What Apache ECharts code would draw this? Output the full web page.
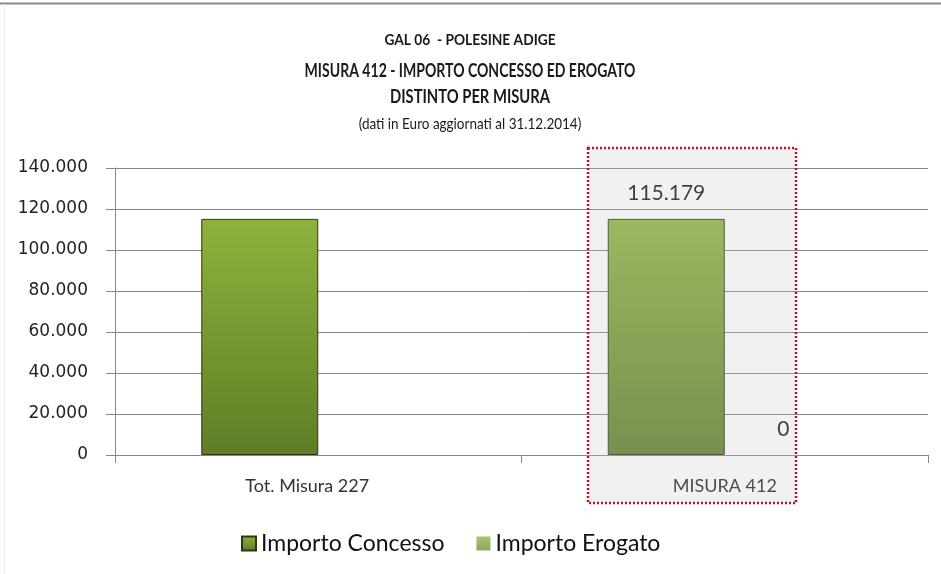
<!DOCTYPE html>
<html>
<head>
<meta charset="utf-8">
<script src="https://cdn.jsdelivr.net/npm/echarts@6/dist/echarts.min.js"></script>
<style>
  html, body { margin: 0; padding: 0; background: #fff; }
  #chart { width: 941px; height: 574px; }
</style>
</head>
<body>
<div id="chart"></div>
<script>
// dati del grafico
var categories = ['Tot. Misura 227', 'MISURA 412'];
var concesso = [115179, 115179];
var erogato = [null, 0];
var seriesNames = ['Importo Concesso', 'Importo Erogato'];
var yMin = 0, yMax = 140000, yStep = 20000;
var titleLines = [
    'GAL 06  - POLESINE ADIGE',
    'MISURA 412 - IMPORTO CONCESSO ED EROGATO',
    'DISTINTO PER MISURA',
    '(dati in Euro aggiornati al 31.12.2014)'
];
var labelledCategory = 'MISURA 412'; // solo questa categoria ha le etichette

var FONT = 'Lato, "Open Sans", sans-serif';

function fmt(v) {
    return String(v).replace(/\B(?=(\d{3})+(?!\d))/g, '.');
}

// titolo su 4 righe (testo stretto tipo Calibri)
function titleText(txt, y, size, weight, sx) {
    return {
        type: 'text',
        x: 470,
        y: y,
        scaleX: sx,
        silent: true,
        style: {
            text: txt,
            fill: '#1a1a1a',
            font: weight + ' ' + size + 'px ' + FONT,
            textAlign: 'center',
            textVerticalAlign: 'middle'
        }
    };
}

var myChart = echarts.init(document.getElementById('chart'));

var labelOpt = {
    show: true,
    position: 'top',
    distance: 15,
    fontFamily: FONT,
    fontSize: 21,
    color: '#111',
    formatter: function (p) {
        return p.name === labelledCategory ? fmt(p.value) : '';
    }
};

var option = {
    backgroundColor: '#fff',
    animation: false,
    legend: {
        data: seriesNames,
        left: 236,
        top: 527,
        icon: 'rect',
        itemWidth: 14,
        itemHeight: 14,
        itemGap: 32,
        textStyle: { fontFamily: FONT, fontSize: 23, color: '#111' }
    },
    grid: {
        left: 115,
        right: 13,
        top: 168,
        bottom: 119
    },
    xAxis: {
        type: 'category',
        data: categories,
        axisLine: { lineStyle: { color: '#888' } },
        axisTick: { show: true, length: 8, lineStyle: { color: '#888' } },
        axisLabel: {
            margin: 22,
            fontFamily: FONT,
            fontSize: 18,
            color: '#333',
            formatter: function (v, i) {
                return i === 0 ? '{a|' + v + '}' : '{b|' + v + '}';
            },
            rich: {
                a: { fontFamily: FONT, fontSize: 18, color: '#333', padding: [0, 22, 0, 0] },
                b: { fontFamily: FONT, fontSize: 18, color: '#222' }
            }
        }
    },
    yAxis: {
        type: 'value',
        min: yMin,
        max: yMax,
        interval: yStep,
        axisLine: { show: true, lineStyle: { color: '#888' } },
        axisTick: { show: true, length: 9, lineStyle: { color: '#888' } },
        axisLabel: {
            margin: 27,
            fontFamily: '"DejaVu Sans", sans-serif',
            fontSize: 17,
            color: '#222',
            formatter: function (v) { return fmt(v); }
        },
        splitLine: { lineStyle: { color: '#858585', width: 1 } }
    },
    series: [
        {
            name: seriesNames[0],
            type: 'bar',
            data: concesso,
            barWidth: 117,
            barGap: '0%',
            itemStyle: {
                color: new echarts.graphic.LinearGradient(0, 0, 0, 1, [
                    { offset: 0, color: '#8db33c' },
                    { offset: 1, color: '#5e7e26' }
                ]),
                borderColor: '#2a3814',
                borderWidth: 1
            },
            label: labelOpt
        },
        {
            name: seriesNames[1],
            type: 'bar',
            data: erogato,
            barWidth: 117,
            itemStyle: {
                color: new echarts.graphic.LinearGradient(0, 0, 0, 1, [
                    { offset: 0, color: '#a9c472' },
                    { offset: 1, color: '#8aa85a' }
                ])
            },
            label: labelOpt
        }
    ],
    graphic: [
        titleText(titleLines[0], 40, 16, 'bold', 0.86),
        titleText(titleLines[1], 71, 18, 'bold', 0.78),
        titleText(titleLines[2], 97, 18, 'bold', 0.82),
        titleText(titleLines[3], 124, 15, 'normal', 0.9),
        // bordo superiore del riquadro
        { type: 'line', shape: { x1: 0, y1: 3.5, x2: 941, y2: 3.5 }, style: { stroke: '#8a8a8a', lineWidth: 2 }, silent: true },
        { type: 'line', shape: { x1: 4.5, y1: 4, x2: 4.5, y2: 574 }, style: { stroke: '#eeeeee', lineWidth: 1 }, silent: true },
        // evidenziazione MISURA 412
        {
            type: 'rect',
            z: 100,
            shape: { x: 588, y: 148, width: 208, height: 355 },
            style: {
                fill: 'rgba(200,200,200,0.25)',
                stroke: '#c0102c',
                lineWidth: 2.5,
                lineDash: [2, 2]
            },
            silent: true
        }
    ]
};

myChart.setOption(option);

window.onresize = function () {
    myChart.resize();
};
</script>
</body>
</html>
